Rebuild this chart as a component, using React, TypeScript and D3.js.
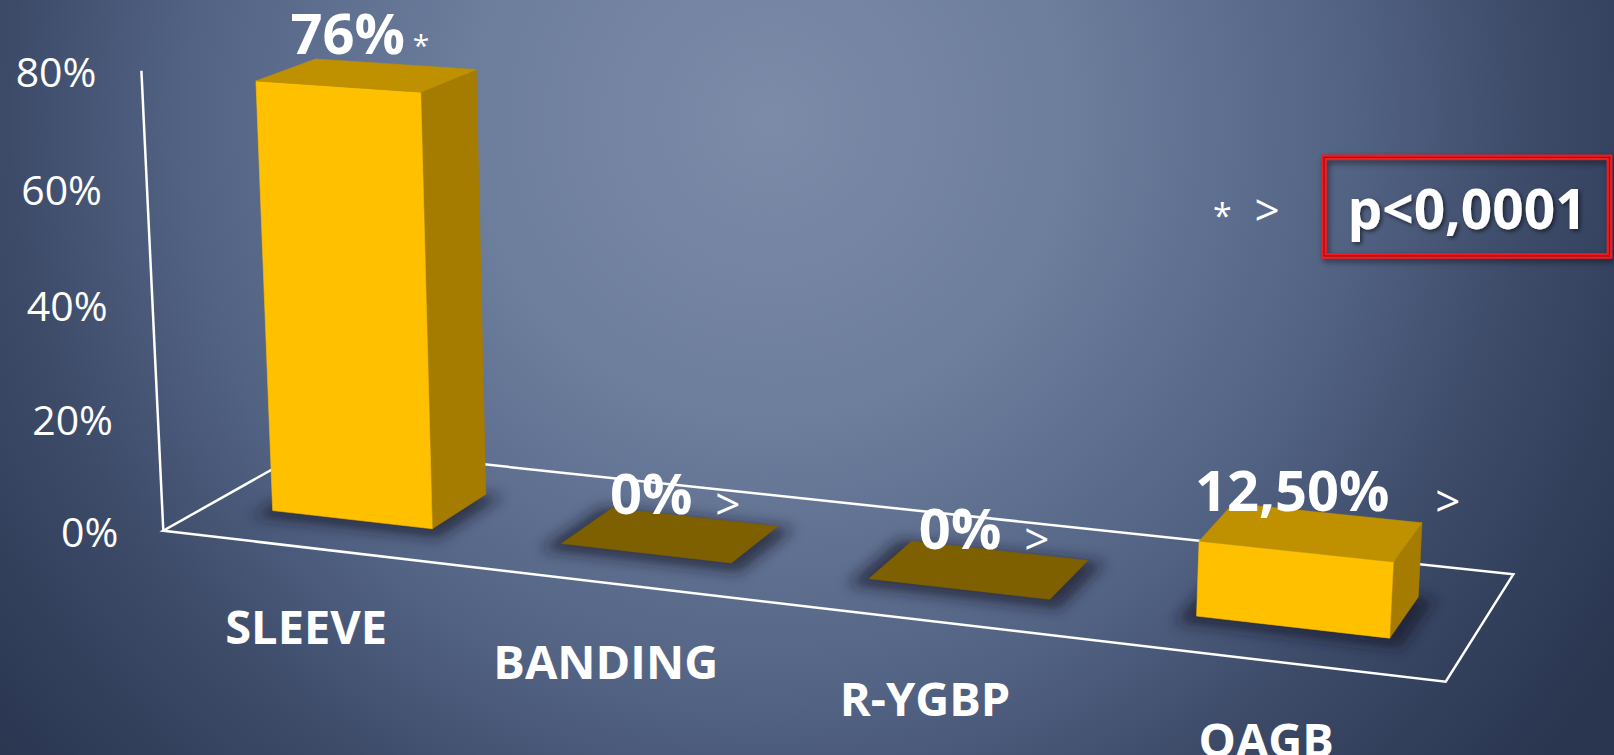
import React, { useEffect, useRef } from "react";
import * as d3 from "d3";

// ---------- data ----------
const categories = ["SLEEVE", "BANDING", "R-YGBP", "OAGB"];
const values = [0.76, 0, 0, 0.125];
const valueLabels = ["76%", "0%", "0%", "12,50%"];
const labelSuffix = [" *", "  >", "  >", "    >"];
const yTicks = [0, 0.2, 0.4, 0.6, 0.8];
const yTickLabels = ["0%", "20%", "40%", "60%", "80%"];
const legendMarks = ["*", ">"];
const pValueText = "p<0,0001";

// ---------- layout (camera / frame) ----------
const W = 1614;
const H = 755;
const FLOOR_FL: [number, number] = [163.3, 530.7];
const FLOOR_FR: [number, number] = [1445.7, 681.7];
const FLOOR_BR: [number, number] = [1513.3, 574.3];
const FLOOR_BL: [number, number] = [313.4, 446.1];
const AXIS_TOP_Y = 70.7;
const VERTICAL_VP: [number, number] = [771, 13300];
const DEPTH_RANGE: [number, number] = [0.305, 0.695];

const FONT = "'Open Sans', 'DejaVu Sans', sans-serif";

function makeProjection() {
  const [x0, y0] = FLOOR_FL, [x1, y1] = FLOOR_FR, [x2, y2] = FLOOR_BR, [x3, y3] = FLOOR_BL;
  const dx1 = x1 - x2, dx2 = x3 - x2, dx3 = x0 - x1 + x2 - x3;
  const dy1 = y1 - y2, dy2 = y3 - y2, dy3 = y0 - y1 + y2 - y3;
  const den = dx1 * dy2 - dx2 * dy1;
  const g = (dx3 * dy2 - dx2 * dy3) / den;
  const h = (dx1 * dy3 - dx3 * dy1) / den;
  const a = x1 - x0 + g * x1, b = x3 - x0 + h * x3, c = x0;
  const d = y1 - y0 + g * y1, e = y3 - y0 + h * y3, f = y0;
  const m = (AXIS_TOP_Y - f) / (1 * (VERTICAL_VP[1] - AXIS_TOP_Y));
  return (u: number, v: number, Y: number): [number, number] => {
    const w = g * u + h * v + 1 + m * Y;
    return [(a * u + b * v + c + m * VERTICAL_VP[0] * Y) / w, (d * u + e * v + f + m * VERTICAL_VP[1] * Y) / w];
  };
}

function draw(svgEl: SVGSVGElement) {
  const svg = d3.select(svgEl);
  svg.selectAll("*").remove();
  const P = makeProjection();

  const x = d3.scaleBand<string>().domain(categories).range([0, 1]).paddingInner(0.44).paddingOuter(0.22);
  const y = d3.scaleLinear().domain([0, 0.8]).range([0, 1]);

  const defs = svg.append("defs");
  const grad = defs.append("radialGradient").attr("id", "bg").attr("gradientUnits", "userSpaceOnUse")
    .attr("cx", 770).attr("cy", 120).attr("r", 1000);
  [[0, "#7B8BA8"], [0.3, "#6D7D9C"], [0.58, "#536384"], [0.76, "#3D4B69"], [0.9, "#313E5A"], [1, "#2A3650"]].forEach(([o, col]) =>
    grad.append("stop").attr("offset", o as number).attr("stop-color", col as string));

  const blur = defs.append("filter").attr("id", "shadow").attr("x", "-50%").attr("y", "-50%").attr("width", "200%").attr("height", "200%");
  blur.append("feGaussianBlur").attr("stdDeviation", 7);

  const ts = defs.append("filter").attr("id", "tshadow").attr("x", "-20%").attr("y", "-30%").attr("width", "140%").attr("height", "160%");
  ts.append("feDropShadow").attr("dx", 2).attr("dy", 2).attr("stdDeviation", 2).attr("flood-color", "#000").attr("flood-opacity", 0.55);

  const bs = defs.append("filter").attr("id", "bshadow").attr("x", "-20%").attr("y", "-30%").attr("width", "140%").attr("height", "160%");
  bs.append("feDropShadow").attr("dx", 2).attr("dy", 3).attr("stdDeviation", 3).attr("flood-color", "#000").attr("flood-opacity", 0.5);

  svg.append("rect").attr("width", W).attr("height", H).attr("fill", "url(#bg)");

  const line = d3.line();

  // floor outline + vertical axis
  const floor = [P(0, 0, 0), P(1, 0, 0), P(1, 1, 0), P(0, 1, 0)];
  svg.append("path").attr("d", line(floor) + "Z").attr("fill", "none").attr("stroke", "#fff").attr("stroke-width", 2.5);
  svg.append("path").attr("d", line([P(0, 0, 0), P(0, 0, y(0.8))])).attr("fill", "none").attr("stroke", "#fff").attr("stroke-width", 2.5);

  // y tick labels
  svg.append("g").selectAll("text").data(yTicks).join("text")
    .attr("x", (t) => P(0, 0, y(t))[0] - 45)
    .attr("y", (t) => P(0, 0, y(t))[1] + 16)
    .attr("text-anchor", "end")
    .attr("font-family", FONT).attr("font-size", 41).attr("fill", "#fff")
    .text((_, i) => yTickLabels[i]);

  // bars
  const [v0, v1] = DEPTH_RANGE;
  const bw = x.bandwidth();
  categories.forEach((cat, i) => {
    const u0 = x(cat)!;
    const u1 = u0 + bw;
    const Y = y(values[i]);
    const du = 0.012, dv = 0.04;
    const sh = [P(u0 - du, v0 - dv, 0), P(u1 + du, v0 - dv, 0), P(u1 + du, v1 + dv, 0), P(u0 - du, v1 + dv, 0)]
      .map(([px, py]) => [px - 2, py + 4] as [number, number]);
    svg.append("path").attr("d", line(sh) + "Z").attr("fill", "#121928").attr("opacity", 0.65).attr("filter", "url(#shadow)");

    if (Y > 0) {
      const front = [P(u0, v0, 0), P(u1, v0, 0), P(u1, v0, Y), P(u0, v0, Y)];
      const side = [P(u1, v0, 0), P(u1, v1, 0), P(u1, v1, Y), P(u1, v0, Y)];
      const top = [P(u0, v0, Y), P(u1, v0, Y), P(u1, v1, Y), P(u0, v1, Y)];
      svg.append("path").attr("d", line(side) + "Z").attr("fill", "#A67C00").attr("stroke", "#A67C00").attr("stroke-width", 0.6);
      svg.append("path").attr("d", line(front) + "Z").attr("fill", "#FFC000").attr("stroke", "#FFC000").attr("stroke-width", 0.6);
      svg.append("path").attr("d", line(top) + "Z").attr("fill", "#BF9000").attr("stroke", "#BF9000").attr("stroke-width", 0.6);
    } else {
      const top = [P(u0, v0, 0), P(u1, v0, 0), P(u1, v1, 0), P(u0, v1, 0)];
      svg.append("path").attr("d", line(top) + "Z").attr("fill", "#7F6000").attr("stroke", "#7F6000").attr("stroke-width", 0.6);
    }
  });

  // category labels
  categories.forEach((cat) => {
    const uc = x(cat)! + bw / 2;
    const [px, py] = P(uc, 0, 0);
    svg.append("text").attr("x", px).attr("y", py + 96).attr("text-anchor", "middle")
      .attr("font-family", FONT).attr("font-weight", 700).attr("font-size", 47).attr("fill", "#fff")
      .text(cat);
  });

  // value labels
  categories.forEach((cat, i) => {
    const uc = x(cat)! + bw / 2;
    const [ax, ay] = P(uc, 0.5, y(values[i]));
    const cx = ax - 19;
    const by = ay - 21;
    const t = svg.append("text").attr("x", cx).attr("y", by).attr("text-anchor", "middle")
      .attr("font-family", FONT).attr("font-weight", 700).attr("font-size", 56).attr("fill", "#fff")
      .text(valueLabels[i]);
    const L = (t.node() as SVGTextElement).getComputedTextLength();
    const isStar = labelSuffix[i].trim() === "*";
    svg.append("text").attr("x", cx + L / 2).attr("y", by + (isStar ? 2 : 6))
      .attr("font-family", FONT).attr("font-size", isStar ? 30 : 44).attr("fill", "#fff")
      .style("white-space", "pre").attr("xml:space", "preserve")
      .text(labelSuffix[i]);
  });

  // legend
  svg.append("text").attr("x", 1213).attr("y", 228).attr("font-family", FONT).attr("font-size", 34).attr("fill", "#fff").text(legendMarks[0]);
  svg.append("text").attr("x", 1254.5).attr("y", 226).attr("font-family", FONT).attr("font-size", 44).attr("fill", "#fff").text(legendMarks[1]);
  const box = svg.append("g").attr("filter", "url(#bshadow)");
  box.append("rect").attr("x", 1324).attr("y", 157.3).attr("width", 285.5).attr("height", 98.7)
    .attr("fill", "none").attr("stroke", "#F01A20").attr("stroke-width", 5.5);
  svg.append("rect").attr("x", 1324).attr("y", 157.3).attr("width", 285.5).attr("height", 98.7)
    .attr("fill", "none").attr("stroke", "#A00A10").attr("stroke-width", 1.2);
  svg.append("text").attr("x", 1467).attr("y", 229).attr("text-anchor", "middle")
    .attr("font-family", FONT).attr("font-weight", 700).attr("font-size", 55).attr("fill", "#fff")
    .attr("filter", "url(#tshadow)").text(pValueText);
}

export default function App() {
  const ref = useRef<SVGSVGElement>(null);
  useEffect(() => {
    if (!ref.current) return;
    draw(ref.current);
    const fonts = (document as any).fonts;
    if (fonts && fonts.ready) fonts.ready.then(() => ref.current && draw(ref.current));
  }, []);
  return (
    <div style={{ position: "absolute", left: 0, top: 0, width: W, height: H, overflow: "hidden" }}>
      <svg ref={ref} width={W} height={H} style={{ display: "block" }} />
    </div>
  );
}
